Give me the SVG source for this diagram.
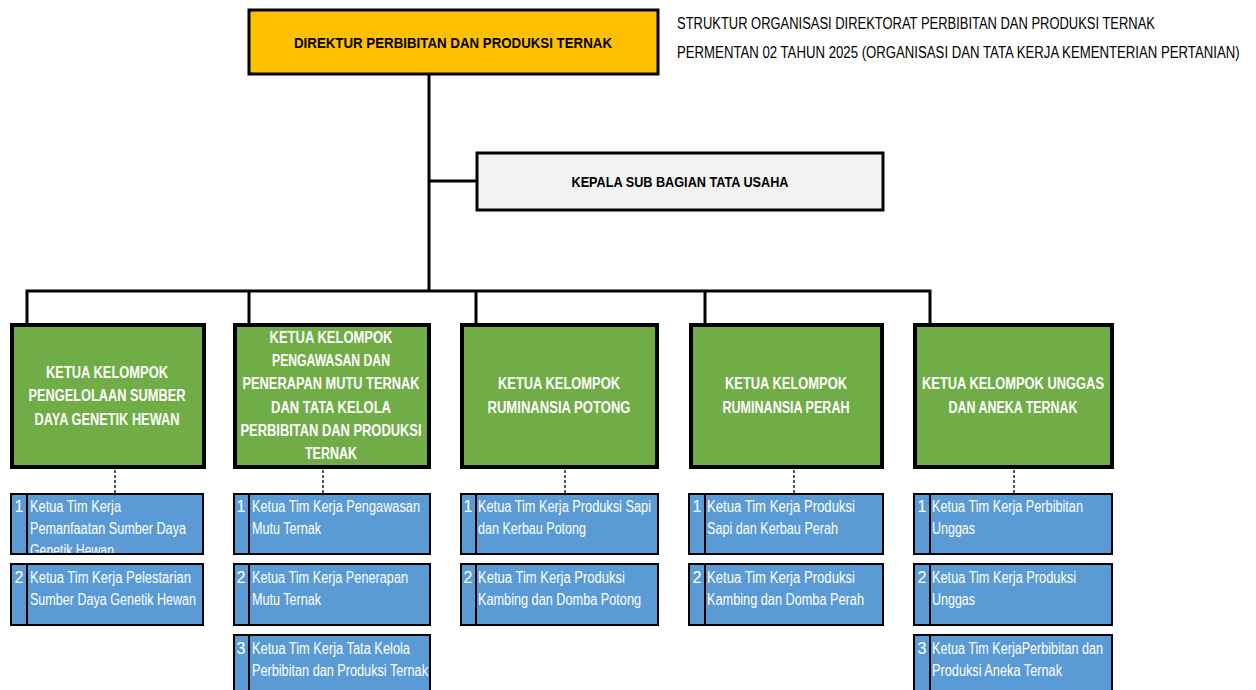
<svg xmlns="http://www.w3.org/2000/svg" width="1256" height="690" viewBox="0 0 1256 690">
<style>
.conn{stroke:#000;stroke-width:3;fill:none}
.dash{stroke:#000;stroke-width:1.3;stroke-dasharray:3,2;fill:none}
.yel{fill:#FFC000;stroke:#000;stroke-width:3}
.gry{fill:#F2F2F2;stroke:#000;stroke-width:3}
.grn{fill:#70AD47;stroke:#000;stroke-width:4}
.blu{fill:#5B9BD5;stroke:#000;stroke-width:2}
.div{stroke:#000;stroke-width:2}
.hd{font-family:"Liberation Sans",Arial,sans-serif;font-weight:bold;font-size:15.5px;fill:#000;text-anchor:middle}
.gt{font-family:"Liberation Sans",Arial,sans-serif;font-weight:bold;font-size:16px;fill:#fff;text-anchor:middle}
.bt{font-family:"Liberation Sans",Arial,sans-serif;font-size:16px;fill:#fff}
.num{font-family:"Liberation Sans",Arial,sans-serif;font-size:16px;fill:#fff;text-anchor:middle}
.ttl{font-family:"Liberation Sans",Arial,sans-serif;font-size:16.5px;fill:#000}
</style>
<defs>
<clipPath id="c1"><rect x="10" y="493" width="193" height="60"/></clipPath>
</defs>
<rect width="1256" height="690" fill="#fff"/>

<g id="connectors">
<line class="conn" x1="429" y1="75" x2="429" y2="292"/>
<line class="conn" x1="429" y1="181" x2="476" y2="181"/>
<polyline class="conn" points="27,323 27,291 930,291 930,323"/>
<line class="conn" x1="249" y1="291" x2="249" y2="323"/>
<line class="conn" x1="476" y1="291" x2="476" y2="323"/>
<line class="conn" x1="705" y1="291" x2="705" y2="323"/>
<line class="dash" x1="115" y1="470" x2="115" y2="493"/>
<line class="dash" x1="323" y1="470" x2="323" y2="493"/>
<line class="dash" x1="565" y1="470" x2="565" y2="493"/>
<line class="dash" x1="794" y1="470" x2="794" y2="493"/>
<line class="dash" x1="1014" y1="470" x2="1014" y2="493"/>
</g>

<g id="title">
<text class="ttl" transform="translate(677,29) scale(0.781,1)" x="0" y="0" textLength="612" lengthAdjust="spacingAndGlyphs">STRUKTUR ORGANISASI DIREKTORAT PERBIBITAN DAN PRODUKSI TERNAK</text>
<text class="ttl" transform="translate(677,58) scale(0.788,1)" x="0" y="0" textLength="714" lengthAdjust="spacingAndGlyphs">PERMENTAN 02 TAHUN 2025 (ORGANISASI DAN TATA KERJA KEMENTERIAN PERTANIAN)</text>
</g>

<g id="direktur">
<rect class="yel" x="249" y="10" width="409" height="64"/>
<text class="hd" x="453" y="48" textLength="318" lengthAdjust="spacingAndGlyphs">DIREKTUR PERBIBITAN DAN PRODUKSI TERNAK</text>
</g>

<g id="kasubbag">
<rect class="gry" x="477" y="153" width="406" height="57"/>
<text class="hd" x="680" y="187" textLength="217" lengthAdjust="spacingAndGlyphs">KEPALA SUB BAGIAN TATA USAHA</text>
</g>

<g id="kelompok1">
<rect class="grn" x="12" y="325" width="192" height="142"/>
<text class="gt" x="107" y="378" textLength="122" lengthAdjust="spacingAndGlyphs">KETUA KELOMPOK</text>
<text class="gt" x="107" y="401" textLength="157" lengthAdjust="spacingAndGlyphs">PENGELOLAAN SUMBER</text>
<text class="gt" x="107" y="425" textLength="145" lengthAdjust="spacingAndGlyphs">DAYA GENETIK HEWAN</text>
</g>

<g id="kelompok2">
<rect class="grn" x="235" y="325" width="194" height="142"/>
<text class="gt" x="331" y="343" textLength="123" lengthAdjust="spacingAndGlyphs">KETUA KELOMPOK</text>
<text class="gt" x="331" y="366" textLength="118" lengthAdjust="spacingAndGlyphs">PENGAWASAN DAN</text>
<text class="gt" x="331" y="389" textLength="177" lengthAdjust="spacingAndGlyphs">PENERAPAN MUTU TERNAK</text>
<text class="gt" x="331" y="413" textLength="120" lengthAdjust="spacingAndGlyphs">DAN TATA KELOLA</text>
<text class="gt" x="331" y="436" textLength="181" lengthAdjust="spacingAndGlyphs">PERBIBITAN DAN PRODUKSI</text>
<text class="gt" x="331" y="459" textLength="52" lengthAdjust="spacingAndGlyphs">TERNAK</text>
</g>

<g id="kelompok3">
<rect class="grn" x="462" y="325" width="195" height="142"/>
<text class="gt" x="559" y="389" textLength="122" lengthAdjust="spacingAndGlyphs">KETUA KELOMPOK</text>
<text class="gt" x="559" y="413" textLength="143" lengthAdjust="spacingAndGlyphs">RUMINANSIA POTONG</text>
</g>

<g id="kelompok4">
<rect class="grn" x="691" y="325" width="191" height="142"/>
<text class="gt" x="786" y="389" textLength="122" lengthAdjust="spacingAndGlyphs">KETUA KELOMPOK</text>
<text class="gt" x="786" y="413" textLength="127" lengthAdjust="spacingAndGlyphs">RUMINANSIA PERAH</text>
</g>

<g id="kelompok5">
<rect class="grn" x="915" y="325" width="197" height="142"/>
<text class="gt" x="1013" y="389" textLength="182" lengthAdjust="spacingAndGlyphs">KETUA KELOMPOK UNGGAS</text>
<text class="gt" x="1013" y="413" textLength="129" lengthAdjust="spacingAndGlyphs">DAN ANEKA TERNAK</text>
</g>

<g id="tim1-1">
<rect class="blu" x="11" y="494" width="192" height="60"/>
<line class="div" x1="27" y1="494" x2="27" y2="554"/>
<text class="num" x="19" y="512">1</text>
<g clip-path="url(#c1)">
<text class="bt" x="30" y="512" textLength="91" lengthAdjust="spacingAndGlyphs">Ketua Tim Kerja</text>
<text class="bt" x="30" y="534" textLength="156" lengthAdjust="spacingAndGlyphs">Pemanfaatan Sumber Daya</text>
<text class="bt" x="30" y="556" textLength="84" lengthAdjust="spacingAndGlyphs">Genetik Hewan</text>
</g>
</g>
<g id="tim1-2">
<rect class="blu" x="11" y="564" width="192" height="61"/>
<line class="div" x1="27" y1="564" x2="27" y2="625"/>
<text class="num" x="19" y="583">2</text>
<text class="bt" x="30" y="583" textLength="161" lengthAdjust="spacingAndGlyphs">Ketua Tim Kerja  Pelestarian</text>
<text class="bt" x="30" y="605" textLength="166" lengthAdjust="spacingAndGlyphs">Sumber Daya Genetik Hewan</text>
</g>

<g id="tim2-1">
<rect class="blu" x="234" y="494" width="196" height="60"/>
<line class="div" x1="249" y1="494" x2="249" y2="554"/>
<text class="num" x="241" y="512">1</text>
<text class="bt" x="252" y="512" textLength="168" lengthAdjust="spacingAndGlyphs">Ketua Tim Kerja Pengawasan</text>
<text class="bt" x="252" y="534" textLength="69" lengthAdjust="spacingAndGlyphs">Mutu Ternak</text>
</g>
<g id="tim2-2">
<rect class="blu" x="234" y="564" width="196" height="61"/>
<line class="div" x1="249" y1="564" x2="249" y2="625"/>
<text class="num" x="241" y="583">2</text>
<text class="bt" x="252" y="583" textLength="156" lengthAdjust="spacingAndGlyphs">Ketua Tim Kerja Penerapan</text>
<text class="bt" x="252" y="605" textLength="69" lengthAdjust="spacingAndGlyphs">Mutu Ternak</text>
</g>
<g id="tim2-3">
<rect class="blu" x="234" y="635" width="196" height="70"/>
<line class="div" x1="249" y1="635" x2="249" y2="705"/>
<text class="num" x="241" y="654">3</text>
<text class="bt" x="252" y="654" textLength="158" lengthAdjust="spacingAndGlyphs">Ketua Tim Kerja Tata Kelola</text>
<text class="bt" x="252" y="676" textLength="176" lengthAdjust="spacingAndGlyphs">Perbibitan dan Produksi Ternak</text>
</g>

<g id="tim3-1">
<rect class="blu" x="461" y="494" width="197" height="60"/>
<line class="div" x1="476" y1="494" x2="476" y2="554"/>
<text class="num" x="468" y="512">1</text>
<text class="bt" x="478" y="512" textLength="173" lengthAdjust="spacingAndGlyphs">Ketua Tim Kerja Produksi Sapi</text>
<text class="bt" x="478" y="534" textLength="108" lengthAdjust="spacingAndGlyphs">dan Kerbau Potong</text>
</g>
<g id="tim3-2">
<rect class="blu" x="461" y="564" width="197" height="61"/>
<line class="div" x1="476" y1="564" x2="476" y2="625"/>
<text class="num" x="468" y="583">2</text>
<text class="bt" x="478" y="583" textLength="147" lengthAdjust="spacingAndGlyphs">Ketua Tim Kerja  Produksi</text>
<text class="bt" x="478" y="605" textLength="163" lengthAdjust="spacingAndGlyphs">Kambing dan Domba Potong</text>
</g>

<g id="tim4-1">
<rect class="blu" x="689" y="494" width="194" height="60"/>
<line class="div" x1="705" y1="494" x2="705" y2="554"/>
<text class="num" x="697" y="512">1</text>
<text class="bt" x="707" y="512" textLength="148" lengthAdjust="spacingAndGlyphs">Ketua Tim Kerja  Produksi</text>
<text class="bt" x="707" y="534" textLength="131" lengthAdjust="spacingAndGlyphs">Sapi dan Kerbau Perah</text>
</g>
<g id="tim4-2">
<rect class="blu" x="689" y="564" width="194" height="61"/>
<line class="div" x1="705" y1="564" x2="705" y2="625"/>
<text class="num" x="697" y="583">2</text>
<text class="bt" x="707" y="583" textLength="148" lengthAdjust="spacingAndGlyphs">Ketua Tim Kerja  Produksi</text>
<text class="bt" x="707" y="605" textLength="157" lengthAdjust="spacingAndGlyphs">Kambing dan Domba Perah</text>
</g>

<g id="tim5-1">
<rect class="blu" x="914" y="494" width="198" height="60"/>
<line class="div" x1="930" y1="494" x2="930" y2="554"/>
<text class="num" x="922" y="512">1</text>
<text class="bt" x="932" y="512" textLength="151" lengthAdjust="spacingAndGlyphs">Ketua Tim Kerja Perbibitan</text>
<text class="bt" x="932" y="534" textLength="43" lengthAdjust="spacingAndGlyphs">Unggas</text>
</g>
<g id="tim5-2">
<rect class="blu" x="914" y="564" width="198" height="61"/>
<line class="div" x1="930" y1="564" x2="930" y2="625"/>
<text class="num" x="922" y="583">2</text>
<text class="bt" x="932" y="583" textLength="144" lengthAdjust="spacingAndGlyphs">Ketua Tim Kerja Produksi</text>
<text class="bt" x="932" y="605" textLength="43" lengthAdjust="spacingAndGlyphs">Unggas</text>
</g>
<g id="tim5-3">
<rect class="blu" x="914" y="635" width="198" height="70"/>
<line class="div" x1="930" y1="635" x2="930" y2="705"/>
<text class="num" x="922" y="654">3</text>
<text class="bt" x="932" y="654" textLength="171" lengthAdjust="spacingAndGlyphs">Ketua Tim KerjaPerbibitan dan</text>
<text class="bt" x="932" y="676" textLength="130" lengthAdjust="spacingAndGlyphs">Produksi Aneka Ternak</text>
</g>
</svg>
